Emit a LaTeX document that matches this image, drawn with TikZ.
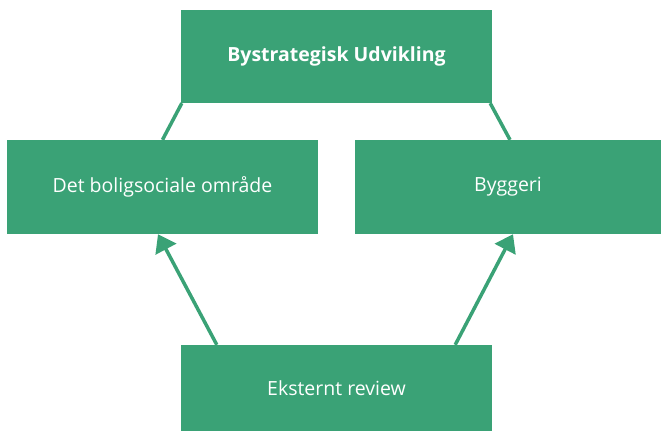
\documentclass[tikz,border=0pt]{standalone}
\usepackage{fontspec}
\setmainfont{Open Sans}
\usetikzlibrary{shapes,arrows.meta}
\definecolor{boxgreen}{RGB}{58,162,118}
\tikzstyle{block} = [rectangle, fill=boxgreen, text=white, inner sep=0pt,
    minimum width=311pt, minimum height=93pt, font=\fontsize{19.5}{23}\selectfont]
\tikzstyle{line} = [draw=boxgreen, line width=3.5pt]
\tikzstyle{arrow} = [line, -{Triangle[length=17pt,width=23pt]}]
\begin{document}
\begin{tikzpicture}[x=1pt, y=-1pt]
        \useasboundingbox (0,0) rectangle (661,431);

        % Place nodes
        \node [block, font=\fontsize{19.5}{23}\selectfont\bfseries] (strategy) at (336.5,56.5) {Bystrategisk Udvikling};
        \node [block, minimum height=94pt] (social) at (162.5,187) {Det boligsociale område};
        \node [block, minimum height=94pt, minimum width=306pt] (build) at (508,187) {Byggeri};
        \node [block, minimum height=86pt] (review) at (336.5,388) {Eksternt review};

        % Draw edges
        \path [line] ([xshift=1pt]strategy.south west) -- (social.north);
        \path [line] ([xshift=-2pt]strategy.south east) -- ([xshift=2pt]build.north);
        \path [arrow] ([xshift=36pt]review.north west) -- ([xshift=-4.5pt]social.south);
        \path [arrow] ([xshift=-37pt]review.north east) -- ([xshift=5pt]build.south);
\end{tikzpicture}
\end{document}
